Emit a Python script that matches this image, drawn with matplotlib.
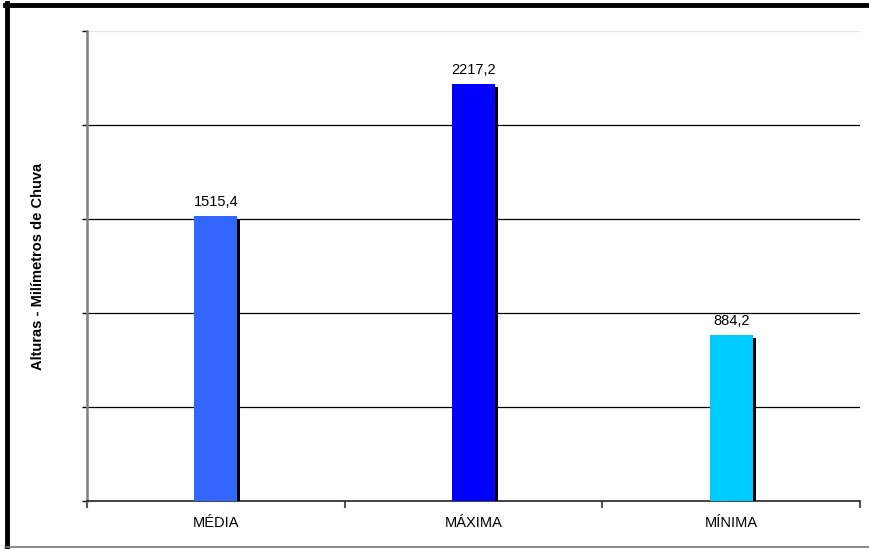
import matplotlib
matplotlib.use("Agg")
import matplotlib.pyplot as plt
import matplotlib.patheffects as pe
from matplotlib.lines import Line2D

plt.rcParams['font.family'] = ['Liberation Sans', 'DejaVu Sans']

categories = ["MÉDIA", "MÁXIMA", "MÍNIMA"]
values = [1515.4, 2217.2, 884.2]
value_labels = ["1515,4", "2217,2", "884,2"]
colors = ["#3366FF", "#0000FF", "#00CCFF"]
y_ticks = [0, 500, 1000, 1500, 2000, 2500]

fig = plt.figure(figsize=(8.70, 5.49), dpi=100)
ax = fig.add_axes([87 / 870, 1 - 501 / 549, (860 - 87) / 870, (501 - 31) / 549])

x = list(range(len(categories)))
bars = ax.bar(x, values, width=0.167, color=colors, zorder=3,
              path_effects=[pe.SimplePatchShadow(offset=(2.2, -2.2), shadow_rgbFace='black', alpha=1.0),
                            pe.Normal()])

for xi, v, lab in zip(x, values, value_labels):
    ax.annotate(lab, (xi, v), xytext=(0, 5), textcoords='offset points',
                ha='center', va='bottom', fontsize=10.5, color='black')

ax.set_xlim(-0.5, 2.5)
ax.set_ylim(0, 2500)

# horizontal gridlines
for t in y_ticks[1:-1]:
    ax.axhline(t, color='black', lw=0.9, zorder=1)
ax.axhline(y_ticks[-1], color='#e6e6e6', lw=1.0, zorder=1)

ax.set_yticks(y_ticks)
ax.set_yticklabels([])
ax.tick_params(axis='y', length=3.5, width=1.0, color='black', direction='out')

ax.set_xticks(x)
ax.set_xticklabels(categories, fontsize=10.5)
ax.set_xticks([-0.5, 0.5, 1.5, 2.5], minor=True)
ax.tick_params(axis='x', which='major', length=0, pad=11)
ax.tick_params(axis='x', which='minor', length=5, width=1.5, color='#555555', direction='out')

for s in ['top', 'right']:
    ax.spines[s].set_visible(False)
ax.spines['left'].set_color('#808080')
ax.spines['left'].set_linewidth(1.8)
ax.spines['bottom'].set_color('#222222')
ax.spines['bottom'].set_linewidth(1.2)

ax.set_ylabel("Alturas - Milímetros de Chuva", fontsize=10.5, fontweight='bold')
ax.yaxis.set_label_coords((45 - 87) / 773, 0.5)

# outer frame
fig.add_artist(Line2D([7 / 870, 7 / 870], [1 - 548 / 549, 1 - 3 / 549], color='black', lw=3.5,
                      transform=fig.transFigure))
fig.add_artist(Line2D([5 / 870, 1.0], [1 - 5 / 549, 1 - 5 / 549], color='black', lw=3.5,
                      transform=fig.transFigure))
fig.add_artist(Line2D([5 / 870, 1.0], [1 - 547 / 549, 1 - 547 / 549], color='#777777', lw=1.2,
                      transform=fig.transFigure))

fig.savefig("out.png", dpi=100)
